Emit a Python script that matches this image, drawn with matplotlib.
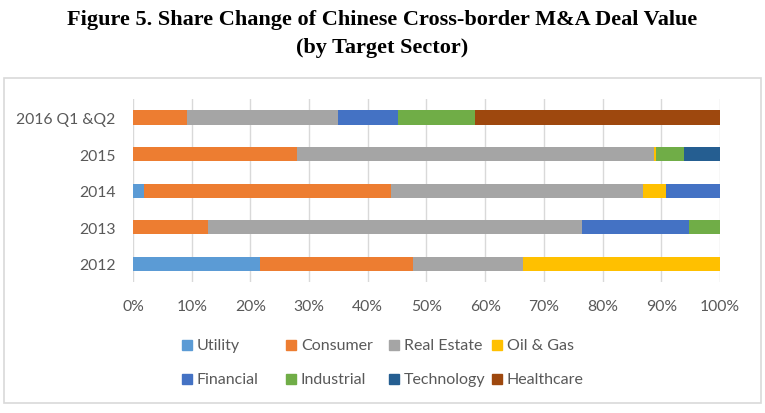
import numpy as np
import matplotlib
matplotlib.use("Agg")
import matplotlib.pyplot as plt
from matplotlib.patches import Rectangle

# categories, bottom to top
periods = ['2012', '2013', '2014', '2015', '2016 Q1 &Q2']
sectors = ['Utility', 'Consumer', 'Real Estate', 'Oil & Gas',
           'Financial', 'Industrial', 'Technology', 'Healthcare']

# share (%) per sector for each period
utility     = [21.6, 0.0, 1.8, 0.0, 0.0]
consumer    = [26.1, 12.8, 42.2, 28.0, 9.2]
real_estate = [18.7, 63.7, 42.9, 60.8, 25.7]
oil_gas     = [33.6, 0.0, 3.9, 0.3, 0.0]
financial   = [0.0, 18.3, 9.2, 0.0, 10.3]
industrial  = [0.0, 5.2, 0.0, 4.8, 13.0]
technology  = [0.0, 0.0, 0.0, 6.1, 0.0]
healthcare  = [0.0, 0.0, 0.0, 0.0, 41.8]

colors = ['#5B9BD5', '#ED7D31', '#A5A5A5', '#FFC000',
          '#4472C4', '#70AD47', '#255E91', '#9E480E']

values = np.array([utility, consumer, real_estate, oil_gas,
                   financial, industrial, technology, healthcare])
# normalise each period to 100%
values = values / values.sum(axis=0) * 100

plt.rcParams['font.family'] = ['Lato', 'DejaVu Sans']

W, H = 765, 414
fig = plt.figure(figsize=(W / 100, H / 100), dpi=100)
ax = fig.add_axes([0.174, 0.316, 0.767, 0.442])

# chart frame
fig.patches.append(Rectangle((4 / W, 1 - 404 / H), 757 / W, 325 / H,
                             transform=fig.transFigure, fill=False,
                             edgecolor='#D9D9D9', linewidth=1.2))

y = np.arange(len(periods))
left = np.zeros(len(periods))
for name, vals, c in zip(sectors, values, colors):
    ax.barh(y, vals, left=left, height=0.39, color=c, label=name, zorder=3)
    left += vals

ax.set_xlim(0, 100)
ax.set_ylim(-0.5, 4.5)
ax.set_xticks(np.arange(0, 101, 10))
ax.set_xticklabels([f'{t}%' for t in range(0, 101, 10)])
ax.set_yticks(y)
ax.set_yticklabels(periods)
ax.tick_params(length=0, colors='#595959', labelsize=11.3)
ax.tick_params(axis='y', pad=12.5)
ax.tick_params(axis='x', pad=12)
ax.grid(axis='x', color='#D9D9D9', linewidth=1, zorder=0)
for s in ax.spines.values():
    s.set_visible(False)

# legend laid out like the Excel one (row-wise, 4 columns)
col_x = [182, 286, 389, 492]
row_y = [346, 380]
for i, (name, c) in enumerate(zip(sectors, colors)):
    x0 = col_x[i % 4]
    y0 = row_y[i // 4]
    fig.patches.append(Rectangle((x0 / W, 1 - (y0 + 5) / H), 10 / W, 10 / H,
                                 transform=fig.transFigure, color=c))
    fig.text((x0 + 15) / W, 1 - y0 / H, name, ha='left', va='center',
             fontsize=11.5, color='#595959')

fig.text(0.5, 1 - 20 / H, 'Figure 5. Share Change of Chinese Cross-border M&A Deal Value',
         ha='center', va='center', fontsize=16, fontweight='bold',
         family='Liberation Serif')
fig.text(0.5, 1 - 48 / H, '(by Target Sector)', ha='center', va='center',
         fontsize=16, fontweight='bold', family='Liberation Serif')

fig.savefig('out.png', dpi=100)
